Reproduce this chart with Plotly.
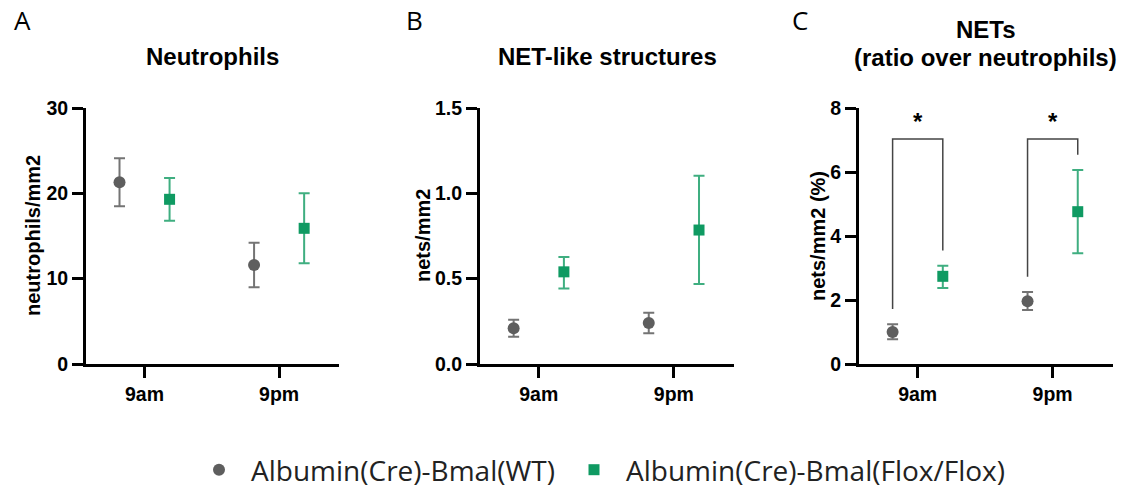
import plotly.graph_objects as go

# ---------------- data ----------------
categories = ["9am", "9pm"]
groups = ["Albumin(Cre)-Bmal(WT)", "Albumin(Cre)-Bmal(Flox/Flox)"]

# Panel A: Neutrophils (neutrophils/mm2)
neut_wt_mean = [21.3, 11.6]
neut_wt_hi = [24.1, 14.2]
neut_wt_lo = [18.5, 9.0]
neut_fl_mean = [19.3, 15.9]
neut_fl_hi = [21.8, 20.0]
neut_fl_lo = [16.8, 11.8]

# Panel B: NET-like structures (nets/mm2)
net_wt_mean = [0.21, 0.24]
net_wt_hi = [0.26, 0.30]
net_wt_lo = [0.16, 0.18]
net_fl_mean = [0.54, 0.785]
net_fl_hi = [0.627, 1.103]
net_fl_lo = [0.443, 0.469]

# Panel C: NETs ratio over neutrophils (%)
ratio_wt_mean = [1.0, 1.96]
ratio_wt_hi = [1.24, 2.25]
ratio_wt_lo = [0.77, 1.69]
ratio_fl_mean = [2.74, 4.76]
ratio_fl_hi = [3.07, 6.06]
ratio_fl_lo = [2.375, 3.46]

sig_labels = ["*", "*"]

y_ticks_A = [0, 10, 20, 30]
y_ticks_B = [0.0, 0.5, 1.0, 1.5]
y_tick_text_B = ["0.0", "0.5", "1.0", "1.5"]
y_ticks_C = [0, 2, 4, 6, 8]

# ---------------- style ----------------
W, H = 1125, 495
GRAY = "#5e5e5e"
GRAY_ERR = "#747474"
GREEN = "#0f9a62"
GREEN_ERR = "#3fae80"
DODGE = 0.186
BRACKET_Y = 7.03
BRACKET_GAP = 0.48
FONT = "Liberation Sans"
LFONT = "Open Sans"

def px_x(p):
    return p / W

def px_y(p):
    return (H - p) / H

ydom = [px_y(364), px_y(108)]
xdoms = [[px_x(86), px_x(339)], [px_x(480), px_x(734)], [px_x(859), px_x(1112.7)]]

fig = go.Figure()

panels = [
    (neut_wt_mean, neut_wt_hi, neut_wt_lo, neut_fl_mean, neut_fl_hi, neut_fl_lo),
    (net_wt_mean, net_wt_hi, net_wt_lo, net_fl_mean, net_fl_hi, net_fl_lo),
    (ratio_wt_mean, ratio_wt_hi, ratio_wt_lo, ratio_fl_mean, ratio_fl_hi, ratio_fl_lo),
]

idx = list(range(len(categories)))
for i, (wm, wh, wl, fm, fh, fl) in enumerate(panels):
    xa = "x" if i == 0 else f"x{i+1}"
    ya = "y" if i == 0 else f"y{i+1}"
    fig.add_trace(go.Scatter(
        x=[k - DODGE for k in idx], y=wm, mode="markers", name=groups[0],
        xaxis=xa, yaxis=ya, showlegend=(i == 0), legend="legend", cliponaxis=False,
        marker=dict(symbol="circle", size=12, color=GRAY),
        error_y=dict(type="data", symmetric=False,
                     array=[h - m for h, m in zip(wh, wm)],
                     arrayminus=[m - l for m, l in zip(wm, wl)],
                     color=GRAY_ERR, thickness=2, width=5.5),
    ))
    fig.add_trace(go.Scatter(
        x=[k + DODGE for k in idx], y=fm, mode="markers", name=groups[1],
        xaxis=xa, yaxis=ya, showlegend=(i == 0), legend="legend2", cliponaxis=False,
        marker=dict(symbol="square", size=11, color=GREEN),
        error_y=dict(type="data", symmetric=False,
                     array=[h - m for h, m in zip(fh, fm)],
                     arrayminus=[m - l for m, l in zip(fm, fl)],
                     color=GREEN_ERR, thickness=2, width=5.5),
    ))

axis_common = dict(
    showline=True, linecolor="black", linewidth=3, mirror=False,
    ticks="outside", ticklen=11, tickwidth=3, tickcolor="black",
    showgrid=False, zeroline=False,
    tickfont=dict(family=FONT, size=19.5, color="black", weight="bold"),
)

yranges = [[0, 30], [0, 1.5], [0, 8]]
ytickvals = [y_ticks_A, y_ticks_B, y_ticks_C]
yticktext = [[str(v) for v in y_ticks_A], y_tick_text_B, [str(v) for v in y_ticks_C]]
for i in range(3):
    sfx = "" if i == 0 else str(i + 1)
    fig.update_layout(**{
        f"xaxis{sfx}": dict(axis_common, domain=xdoms[i], range=[-0.435, 1.445],
                            tickvals=idx, ticktext=categories,
                            anchor="y" + sfx),
        f"yaxis{sfx}": dict(axis_common, domain=ydom, range=yranges[i],
                            tickvals=ytickvals[i], ticktext=yticktext[i],
                            anchor="x" + sfx),
    })

# significance brackets in panel C
for k in idx:
    left_x = k - DODGE
    right_x = k + DODGE
    fig.add_shape(type="path", xref="x3", yref="y3",
                  path=f"M {left_x},{ratio_wt_hi[k] + BRACKET_GAP} L {left_x},{BRACKET_Y} "
                       f"L {right_x},{BRACKET_Y} L {right_x},{ratio_fl_hi[k] + BRACKET_GAP}",
                  line=dict(color="#444444", width=1.5))
    fig.add_annotation(x=k, y=BRACKET_Y, xref="x3", yref="y3", text=sig_labels[k],
                       showarrow=False, yanchor="bottom", yshift=2,
                       font=dict(family=FONT, size=24, color="black", weight="bold"))

# titles
title_font = dict(family=FONT, size=24, color="black", weight="bold")
centers = [(d[0] + d[1]) / 2 for d in xdoms]
for cx, cy, txt in [(centers[0], 57, "Neutrophils"), (centers[1], 57, "NET-like structures"),
                    (centers[2], 29, "NETs"), (centers[2], 57.5, "(ratio over neutrophils)")]:
    fig.add_annotation(x=cx, y=px_y(cy), xref="paper", yref="paper", text=txt,
                       showarrow=False, font=title_font, xanchor="center", yanchor="middle")

# y-axis titles
ytitle_font = dict(family=FONT, size=20, color="black", weight="bold")
for xp, txt in [(33, "neutrophils/mm2"), (43 + 380, "nets/mm2"), (58 + 760, "nets/mm2 (%)")]:
    fig.add_annotation(x=px_x(xp), y=(ydom[0] + ydom[1]) / 2, xref="paper", yref="paper",
                       text=txt, textangle=-90, showarrow=False, font=ytitle_font,
                       xanchor="center", yanchor="middle")

# panel letters
letter_font = dict(family=LFONT, size=26, color="black")
for xp, t in [(22, "A"), (414, "B"), (800, "C")]:
    fig.add_annotation(x=px_x(xp), y=px_y(20), xref="paper", yref="paper", text=t,
                       showarrow=False, font=letter_font, xanchor="center", yanchor="middle")

legend_style = dict(orientation="h", xanchor="left", yanchor="bottom", y=0,
                    font=dict(family=LFONT, size=28, color="#222222"),
                    itemwidth=54, bgcolor="rgba(0,0,0,0)")

fig.update_layout(
    width=W, height=H,
    margin=dict(l=0, r=0, t=0, b=0, autoexpand=False),
    paper_bgcolor="white", plot_bgcolor="white",
    showlegend=True,
    legend=dict(legend_style, x=px_x(187)),
    legend2=dict(legend_style, x=px_x(562)),
)

fig.write_html("out.html")
